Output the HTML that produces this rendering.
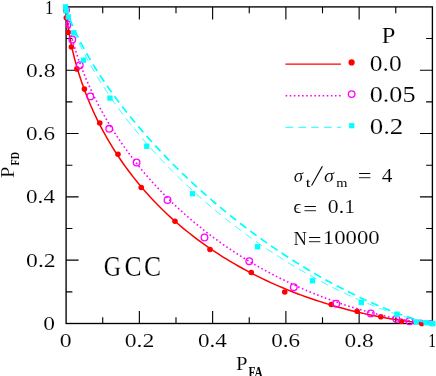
<!DOCTYPE html>
<html><head><meta charset="utf-8"><title>ROC</title>
<style>html,body{margin:0;padding:0;background:#fff;}body{width:436px;height:376px;overflow:hidden;font-family:"Liberation Sans",sans-serif;}svg{display:block;}</style></head>
<body>
<svg width="436" height="376" viewBox="0 0 436 376">
<rect width="436" height="376" fill="#fff"/>
<g stroke="#000000" stroke-width="1.35" fill="none">
<rect x="66.10" y="6.90" width="366.30" height="316.60"/>
<path stroke-width="1.12" d="M102.73,323.50 v-6.30 M102.73,6.90 v6.30 M66.10,291.84 h6.30 M432.40,291.84 h-6.30 M139.36,323.50 v-12.50 M139.36,6.90 v12.50 M66.10,260.18 h12.50 M432.40,260.18 h-12.50 M175.99,323.50 v-6.30 M175.99,6.90 v6.30 M66.10,228.52 h6.30 M432.40,228.52 h-6.30 M212.62,323.50 v-12.50 M212.62,6.90 v12.50 M66.10,196.86 h12.50 M432.40,196.86 h-12.50 M249.25,323.50 v-6.30 M249.25,6.90 v6.30 M66.10,165.20 h6.30 M432.40,165.20 h-6.30 M285.88,323.50 v-12.50 M285.88,6.90 v12.50 M66.10,133.54 h12.50 M432.40,133.54 h-12.50 M322.51,323.50 v-6.30 M322.51,6.90 v6.30 M66.10,101.88 h6.30 M432.40,101.88 h-6.30 M359.14,323.50 v-12.50 M359.14,6.90 v12.50 M66.10,70.22 h12.50 M432.40,70.22 h-12.50 M395.77,323.50 v-6.30 M395.77,6.90 v6.30 M66.10,38.56 h6.30 M432.40,38.56 h-6.30"/>
</g>
<path d="M66.10,6.90 L66.10,6.90 L66.10,6.90 L66.10,6.90 L66.10,6.90 L66.10,6.90 L66.10,6.90 L66.10,6.90 L66.10,6.90 L66.10,6.90 L66.10,6.90 L66.10,6.90 L66.10,6.90 L66.10,6.90 L66.10,6.90 L66.10,6.90 L66.10,6.90 L66.10,6.90 L66.10,6.90 L66.10,6.90 L66.10,6.90 L66.10,6.90 L66.10,6.90 L66.10,6.90 L66.10,6.90 L66.10,6.90 L66.10,6.90 L66.10,6.90 L66.10,6.90 L66.10,6.90 L66.10,6.91 L66.10,6.91 L66.10,6.91 L66.10,6.91 L66.10,6.91 L66.10,6.91 L66.10,6.91 L66.10,6.91 L66.10,6.91 L66.10,6.92 L66.10,6.92 L66.10,6.92 L66.10,6.92 L66.10,6.92 L66.10,6.93 L66.10,6.93 L66.10,6.93 L66.10,6.94 L66.10,6.94 L66.10,6.95 L66.10,6.95 L66.10,6.96 L66.10,6.96 L66.10,6.97 L66.10,6.98 L66.10,6.98 L66.10,6.99 L66.10,7.00 L66.10,7.01 L66.10,7.03 L66.10,7.04 L66.10,7.05 L66.10,7.07 L66.10,7.08 L66.10,7.10 L66.10,7.12 L66.10,7.15 L66.11,7.17 L66.11,7.20 L66.11,7.22 L66.11,7.25 L66.11,7.29 L66.11,7.32 L66.11,7.36 L66.11,7.41 L66.11,7.45 L66.12,7.50 L66.12,7.56 L66.12,7.62 L66.12,7.68 L66.12,7.75 L66.13,7.82 L66.13,7.90 L66.13,7.99 L66.14,8.08 L66.14,8.18 L66.15,8.29 L66.15,8.40 L66.16,8.52 L66.16,8.66 L66.17,8.80 L66.18,8.95 L66.19,9.11 L66.20,9.28 L66.21,9.47 L66.22,9.66 L66.23,9.87 L66.25,10.10 L66.26,10.34 L66.28,10.59 L66.30,10.86 L66.32,11.15 L66.34,11.46 L66.36,11.78 L66.39,12.12 L66.42,12.49 L66.45,12.87 L66.48,13.28 L66.52,13.71 L66.56,14.17 L66.60,14.65 L66.65,15.16 L66.70,15.69 L66.76,16.25 L66.82,16.85 L66.88,17.47 L66.95,18.13 L67.03,18.82 L67.11,19.54 L67.20,20.30 L67.30,21.09 L67.40,21.92 L67.51,22.80 L67.63,23.71 L67.76,24.66 L67.90,25.65 L68.05,26.69 L68.21,27.77 L68.38,28.89 L68.57,30.07 L68.76,31.28 L68.97,32.55 L69.20,33.87 L69.44,35.24 L69.70,36.65 L69.97,38.12 L70.26,39.64 L70.57,41.22 L70.90,42.85 L71.25,44.53 L71.62,46.27 L72.02,48.06 L72.44,49.91 L72.89,51.81 L73.36,53.77 L73.86,55.79 L74.38,57.86 L74.94,59.99 L75.53,62.18 L76.15,64.42 L76.81,66.72 L77.50,69.08 L78.22,71.49 L78.99,73.96 L79.79,76.48 L80.64,79.05 L81.52,81.67 L82.45,84.35 L83.42,87.08 L84.44,89.86 L85.51,92.69 L86.63,95.56 L87.79,98.48 L89.01,101.44 L90.28,104.45 L91.60,107.50 L92.98,110.59 L94.41,113.71 L95.90,116.88 L97.45,120.07 L99.06,123.30 L100.73,126.56 L102.46,129.84 L104.26,133.15 L106.11,136.48 L108.04,139.84 L110.02,143.21 L112.07,146.60 L114.19,150.00 L116.38,153.42 L118.63,156.84 L120.95,160.27 L123.33,163.70 L125.78,167.13 L128.30,170.56 L130.89,173.99 L133.55,177.41 L136.27,180.83 L139.05,184.23 L141.91,187.61 L144.82,190.98 L147.81,194.34 L150.85,197.67 L153.96,200.97 L157.13,204.25 L160.36,207.51 L163.64,210.73 L166.99,213.92 L170.39,217.08 L173.84,220.20 L177.35,223.28 L180.90,226.33 L184.50,229.33 L188.15,232.29 L191.85,235.20 L195.58,238.07 L199.35,240.89 L203.16,243.66 L207.01,246.39 L210.88,249.06 L214.78,251.68 L218.71,254.24 L222.66,256.76 L226.63,259.22 L230.62,261.62 L234.62,263.97 L238.64,266.26 L242.66,268.50 L246.69,270.68 L250.71,272.80 L254.74,274.87 L258.77,276.88 L262.78,278.83 L266.79,280.73 L270.78,282.57 L274.76,284.36 L278.71,286.09 L282.65,287.76 L286.56,289.38 L290.44,290.95 L294.29,292.47 L298.11,293.93 L301.89,295.34 L305.64,296.70 L309.34,298.01 L313.00,299.27 L316.62,300.48 L320.19,301.65 L323.71,302.77 L327.18,303.85 L330.59,304.88 L333.95,305.86 L337.25,306.81 L340.50,307.72 L343.68,308.58 L346.81,309.41 L349.87,310.20 L352.87,310.95 L355.80,311.67 L358.67,312.36 L361.48,313.01 L364.22,313.63 L366.89,314.22 L369.50,314.78 L372.04,315.31 L374.51,315.81 L376.91,316.29 L379.25,316.74 L381.52,317.17 L383.72,317.58 L385.85,317.96 L387.92,318.32 L389.93,318.66 L391.87,318.98 L393.74,319.29 L395.55,319.57 L397.30,319.84 L398.99,320.09 L400.62,320.33 L402.18,320.55 L403.69,320.76 L405.14,320.96 L406.53,321.14 L407.87,321.31 L409.15,321.47 L410.38,321.62 L411.56,321.76 L412.69,321.89 L413.77,322.01 L414.80,322.13 L415.79,322.23 L416.73,322.33 L417.63,322.42 L418.48,322.51 L419.30,322.59 L420.07,322.66 L420.81,322.73 L421.51,322.79 L422.17,322.85 L422.80,322.90 L423.40,322.95 L423.97,323.00 L424.50,323.04 L425.01,323.08 L425.49,323.12 L425.94,323.15 L426.37,323.18 L426.77,323.21 L427.15,323.23 L427.51,323.26 L427.84,323.28 L428.16,323.30 L428.45,323.32 L428.73,323.33 L428.99,323.35 L429.24,323.36 L429.47,323.38 L429.68,323.39 L429.88,323.40 L430.07,323.41 L430.24,323.42 L430.41,323.42 L430.56,323.43 L430.70,323.44 L430.83,323.44 L430.95,323.45 L431.07,323.46 L431.17,323.46 L431.27,323.46 L431.36,323.47 L431.45,323.47 L431.53,323.47 L431.60,323.48 L431.67,323.48 L431.73,323.48 L431.78,323.48 L431.84,323.48 L431.88,323.49 L431.93,323.49 L431.97,323.49 L432.01,323.49 L432.04,323.49 L432.07,323.49 L432.10,323.49 L432.13,323.49 L432.16,323.49 L432.18,323.50 L432.20,323.50 L432.22,323.50 L432.23,323.50 L432.25,323.50 L432.26,323.50 L432.28,323.50 L432.29,323.50 L432.30,323.50 L432.31,323.50 L432.32,323.50 L432.33,323.50 L432.33,323.50 L432.34,323.50 L432.35,323.50 L432.35,323.50 L432.36,323.50 L432.36,323.50 L432.37,323.50 L432.37,323.50 L432.37,323.50 L432.38,323.50 L432.38,323.50 L432.38,323.50 L432.38,323.50 L432.38,323.50 L432.39,323.50 L432.39,323.50 L432.39,323.50 L432.39,323.50 L432.39,323.50 L432.39,323.50 L432.39,323.50 L432.39,323.50 L432.39,323.50 L432.40,323.50 L432.40,323.50 L432.40,323.50 L432.40,323.50 L432.40,323.50 L432.40,323.50 L432.40,323.50 L432.40,323.50 L432.40,323.50 L432.40,323.50 L432.40,323.50 L432.40,323.50 L432.40,323.50 L432.40,323.50 L432.40,323.50 L432.40,323.50 L432.40,323.50 L432.40,323.50 L432.40,323.50 L432.40,323.50 L432.40,323.50 L432.40,323.50 L432.40,323.50 L432.40,323.50 L432.40,323.50 L432.40,323.50 L432.40,323.50 L432.40,323.50 L432.40,323.50 L432.40,323.50 L432.40,323.50" fill="none" stroke="#ff0000" stroke-width="1.5"/>
<circle cx="66.30" cy="17.80" r="2.8" fill="#ff0000"/>
<circle cx="68.30" cy="32.20" r="2.8" fill="#ff0000"/>
<circle cx="71.40" cy="47.00" r="2.8" fill="#ff0000"/>
<circle cx="76.90" cy="68.90" r="2.8" fill="#ff0000"/>
<circle cx="84.40" cy="89.10" r="2.8" fill="#ff0000"/>
<circle cx="99.75" cy="123.00" r="2.8" fill="#ff0000"/>
<circle cx="118.00" cy="154.25" r="2.8" fill="#ff0000"/>
<circle cx="141.25" cy="187.50" r="2.8" fill="#ff0000"/>
<circle cx="175.00" cy="221.25" r="2.8" fill="#ff0000"/>
<circle cx="210.00" cy="249.50" r="2.8" fill="#ff0000"/>
<circle cx="251.25" cy="272.50" r="2.8" fill="#ff0000"/>
<circle cx="284.75" cy="292.00" r="2.8" fill="#ff0000"/>
<circle cx="331.25" cy="304.50" r="2.8" fill="#ff0000"/>
<circle cx="357.10" cy="311.30" r="2.8" fill="#ff0000"/>
<circle cx="380.80" cy="316.80" r="2.8" fill="#ff0000"/>
<circle cx="401.40" cy="321.20" r="2.8" fill="#ff0000"/>
<circle cx="421.70" cy="323.40" r="2.8" fill="#ff0000"/>
<ellipse cx="68.45" cy="24.6" rx="2.3" ry="3.3" fill="none" stroke="#ff00ff" stroke-width="1.3"/>
<circle cx="66.45" cy="10.0" r="2.9" fill="none" stroke="#ff00ff" stroke-width="1.3"/>
<path d="M66.10,6.90 L66.10,6.90 L66.10,6.90 L66.10,6.90 L66.10,6.90 L66.10,6.90 L66.10,6.90 L66.10,6.90 L66.10,6.90 L66.10,6.90 L66.10,6.90 L66.10,6.90 L66.10,6.90 L66.10,6.90 L66.10,6.90 L66.10,6.90 L66.10,6.90 L66.10,6.90 L66.10,6.90 L66.10,6.90 L66.10,6.90 L66.10,6.90 L66.10,6.90 L66.10,6.90 L66.10,6.90 L66.10,6.90 L66.10,6.90 L66.10,6.90 L66.10,6.90 L66.10,6.90 L66.10,6.90 L66.10,6.90 L66.10,6.90 L66.10,6.90 L66.10,6.90 L66.10,6.90 L66.10,6.90 L66.10,6.91 L66.10,6.91 L66.10,6.91 L66.10,6.91 L66.10,6.91 L66.10,6.91 L66.10,6.91 L66.10,6.91 L66.10,6.91 L66.10,6.91 L66.10,6.92 L66.10,6.92 L66.10,6.92 L66.10,6.92 L66.10,6.93 L66.10,6.93 L66.10,6.93 L66.10,6.94 L66.10,6.94 L66.10,6.95 L66.10,6.95 L66.10,6.96 L66.10,6.96 L66.10,6.97 L66.10,6.98 L66.10,6.98 L66.10,6.99 L66.10,7.00 L66.10,7.01 L66.10,7.03 L66.11,7.04 L66.11,7.05 L66.11,7.07 L66.11,7.09 L66.11,7.11 L66.11,7.13 L66.11,7.15 L66.11,7.17 L66.11,7.20 L66.12,7.23 L66.12,7.26 L66.12,7.30 L66.12,7.33 L66.12,7.38 L66.13,7.42 L66.13,7.47 L66.13,7.52 L66.14,7.58 L66.14,7.64 L66.15,7.70 L66.15,7.78 L66.16,7.85 L66.16,7.94 L66.17,8.03 L66.18,8.12 L66.19,8.23 L66.20,8.34 L66.21,8.46 L66.22,8.59 L66.23,8.73 L66.25,8.87 L66.26,9.03 L66.28,9.20 L66.30,9.39 L66.32,9.58 L66.34,9.79 L66.36,10.01 L66.39,10.25 L66.42,10.50 L66.45,10.77 L66.48,11.05 L66.52,11.36 L66.56,11.68 L66.60,12.02 L66.65,12.39 L66.70,12.77 L66.76,13.18 L66.82,13.61 L66.88,14.07 L66.95,14.55 L67.03,15.06 L67.11,15.60 L67.20,16.16 L67.30,16.76 L67.40,17.39 L67.51,18.05 L67.63,18.74 L67.76,19.47 L67.90,20.24 L68.05,21.04 L68.21,21.88 L68.38,22.77 L68.57,23.69 L68.76,24.65 L68.97,25.66 L69.20,26.71 L69.44,27.81 L69.70,28.95 L69.97,30.15 L70.26,31.39 L70.57,32.68 L70.90,34.02 L71.25,35.41 L71.62,36.85 L72.02,38.35 L72.44,39.90 L72.89,41.51 L73.36,43.17 L73.86,44.89 L74.38,46.66 L74.94,48.49 L75.53,50.38 L76.15,52.33 L76.81,54.33 L77.50,56.39 L78.22,58.51 L78.99,60.69 L79.79,62.93 L80.64,65.23 L81.52,67.58 L82.45,69.99 L83.42,72.45 L84.44,74.98 L85.51,77.55 L86.63,80.19 L87.79,82.87 L89.01,85.61 L90.28,88.40 L91.60,91.25 L92.98,94.14 L94.41,97.08 L95.90,100.06 L97.45,103.09 L99.06,106.17 L100.73,109.28 L102.46,112.43 L104.26,115.63 L106.11,118.85 L108.04,122.12 L110.02,125.41 L112.07,128.73 L114.19,132.08 L116.38,135.45 L118.63,138.85 L120.95,142.26 L123.33,145.70 L125.78,149.15 L128.30,152.60 L130.89,156.07 L133.55,159.55 L136.27,163.03 L139.05,166.51 L141.91,169.99 L144.82,173.47 L147.81,176.94 L150.85,180.40 L153.96,183.85 L157.13,187.29 L160.36,190.71 L163.64,194.11 L166.99,197.49 L170.39,200.85 L173.84,204.18 L177.35,207.48 L180.90,210.74 L184.50,213.98 L188.15,217.18 L191.85,220.35 L195.58,223.47 L199.35,226.55 L203.16,229.60 L207.01,232.59 L210.88,235.54 L214.78,238.45 L218.71,241.30 L222.66,244.10 L226.63,246.86 L230.62,249.56 L234.62,252.20 L238.64,254.79 L242.66,257.33 L246.69,259.81 L250.71,262.23 L254.74,264.60 L258.77,266.91 L262.78,269.16 L266.79,271.35 L270.78,273.49 L274.76,275.57 L278.71,277.58 L282.65,279.55 L286.56,281.45 L290.44,283.29 L294.29,285.08 L298.11,286.81 L301.89,288.49 L305.64,290.11 L309.34,291.67 L313.00,293.18 L316.62,294.64 L320.19,296.05 L323.71,297.40 L327.18,298.70 L330.59,299.95 L333.95,301.16 L337.25,302.31 L340.50,303.42 L343.68,304.48 L346.81,305.50 L349.87,306.48 L352.87,307.41 L355.80,308.30 L358.67,309.15 L361.48,309.97 L364.22,310.74 L366.89,311.48 L369.50,312.18 L372.04,312.85 L374.51,313.49 L376.91,314.09 L379.25,314.67 L381.52,315.21 L383.72,315.73 L385.85,316.22 L387.92,316.68 L389.93,317.12 L391.87,317.53 L393.74,317.92 L395.55,318.29 L397.30,318.64 L398.99,318.97 L400.62,319.27 L402.18,319.56 L403.69,319.84 L405.14,320.09 L406.53,320.33 L407.87,320.56 L409.15,320.77 L410.38,320.97 L411.56,321.15 L412.69,321.33 L413.77,321.49 L414.80,321.64 L415.79,321.78 L416.73,321.91 L417.63,322.03 L418.48,322.15 L419.30,322.25 L420.07,322.35 L420.81,322.44 L421.51,322.53 L422.17,322.61 L422.80,322.68 L423.40,322.75 L423.97,322.81 L424.50,322.87 L425.01,322.92 L425.49,322.97 L425.94,323.01 L426.37,323.06 L426.77,323.09 L427.15,323.13 L427.51,323.16 L427.84,323.19 L428.16,323.22 L428.45,323.24 L428.73,323.27 L428.99,323.29 L429.24,323.31 L429.47,323.33 L429.68,323.34 L429.88,323.36 L430.07,323.37 L430.24,323.38 L430.41,323.39 L430.56,323.40 L430.70,323.41 L430.83,323.42 L430.95,323.43 L431.07,323.44 L431.17,323.44 L431.27,323.45 L431.36,323.45 L431.45,323.46 L431.53,323.46 L431.60,323.47 L431.67,323.47 L431.73,323.47 L431.78,323.48 L431.84,323.48 L431.88,323.48 L431.93,323.48 L431.97,323.48 L432.01,323.49 L432.04,323.49 L432.07,323.49 L432.10,323.49 L432.13,323.49 L432.16,323.49 L432.18,323.49 L432.20,323.49 L432.22,323.49 L432.23,323.50 L432.25,323.50 L432.26,323.50 L432.28,323.50 L432.29,323.50 L432.30,323.50 L432.31,323.50 L432.32,323.50 L432.33,323.50 L432.33,323.50 L432.34,323.50 L432.35,323.50 L432.35,323.50 L432.36,323.50 L432.36,323.50 L432.37,323.50 L432.37,323.50 L432.37,323.50 L432.38,323.50 L432.38,323.50 L432.38,323.50 L432.38,323.50 L432.38,323.50 L432.39,323.50 L432.39,323.50 L432.39,323.50 L432.39,323.50 L432.39,323.50 L432.39,323.50 L432.39,323.50 L432.39,323.50 L432.39,323.50 L432.40,323.50 L432.40,323.50 L432.40,323.50 L432.40,323.50 L432.40,323.50 L432.40,323.50 L432.40,323.50 L432.40,323.50 L432.40,323.50 L432.40,323.50 L432.40,323.50 L432.40,323.50 L432.40,323.50 L432.40,323.50 L432.40,323.50 L432.40,323.50 L432.40,323.50 L432.40,323.50 L432.40,323.50 L432.40,323.50 L432.40,323.50 L432.40,323.50 L432.40,323.50 L432.40,323.50 L432.40,323.50 L432.40,323.50 L432.40,323.50 L432.40,323.50 L432.40,323.50 L432.40,323.50 L432.40,323.50" fill="none" stroke="#ff00ff" stroke-width="1.6" stroke-dasharray="1.6 2.52"/>
<circle cx="72.30" cy="39.50" r="3.3" fill="none" stroke="#ff00ff" stroke-width="1.3"/>
<circle cx="79.80" cy="65.20" r="3.3" fill="none" stroke="#ff00ff" stroke-width="1.3"/>
<circle cx="90.30" cy="96.40" r="3.3" fill="none" stroke="#ff00ff" stroke-width="1.3"/>
<circle cx="109.25" cy="128.80" r="3.3" fill="none" stroke="#ff00ff" stroke-width="1.3"/>
<circle cx="136.60" cy="162.50" r="3.3" fill="none" stroke="#ff00ff" stroke-width="1.3"/>
<circle cx="167.50" cy="200.00" r="3.3" fill="none" stroke="#ff00ff" stroke-width="1.3"/>
<circle cx="204.50" cy="237.50" r="3.3" fill="none" stroke="#ff00ff" stroke-width="1.3"/>
<circle cx="249.25" cy="261.20" r="3.3" fill="none" stroke="#ff00ff" stroke-width="1.3"/>
<circle cx="293.75" cy="287.20" r="3.3" fill="none" stroke="#ff00ff" stroke-width="1.3"/>
<circle cx="336.25" cy="303.75" r="3.3" fill="none" stroke="#ff00ff" stroke-width="1.3"/>
<circle cx="370.80" cy="313.40" r="3.3" fill="none" stroke="#ff00ff" stroke-width="1.3"/>
<circle cx="396.30" cy="319.00" r="3.3" fill="none" stroke="#ff00ff" stroke-width="1.3"/>
<circle cx="409.50" cy="321.20" r="3.3" fill="none" stroke="#ff00ff" stroke-width="1.3"/>
<path d="M417.60,322.03 A3.3,3.3 0 0 1 423.60,322.03" fill="none" stroke="#ff00ff" stroke-width="1.3"/>
<path d="M427.60,322.53 A3.3,3.3 0 0 1 433.60,322.53" fill="none" stroke="#ff00ff" stroke-width="1.3"/>
<path d="M66.10,6.90 L66.10,6.90 L66.10,6.90 L66.10,6.90 L66.10,6.90 L66.10,6.90 L66.10,6.90 L66.10,6.90 L66.10,6.90 L66.10,6.90 L66.10,6.90 L66.10,6.90 L66.10,6.90 L66.10,6.90 L66.10,6.90 L66.10,6.90 L66.10,6.90 L66.10,6.90 L66.10,6.90 L66.10,6.90 L66.10,6.90 L66.10,6.90 L66.10,6.90 L66.10,6.90 L66.10,6.90 L66.10,6.90 L66.10,6.90 L66.10,6.90 L66.10,6.90 L66.10,6.90 L66.10,6.90 L66.10,6.90 L66.10,6.90 L66.10,6.90 L66.10,6.90 L66.10,6.90 L66.10,6.90 L66.10,6.90 L66.10,6.90 L66.10,6.90 L66.10,6.90 L66.10,6.90 L66.10,6.90 L66.10,6.90 L66.10,6.90 L66.10,6.90 L66.10,6.90 L66.10,6.90 L66.10,6.90 L66.10,6.91 L66.10,6.91 L66.10,6.91 L66.10,6.91 L66.10,6.91 L66.10,6.91 L66.10,6.91 L66.10,6.91 L66.10,6.91 L66.10,6.92 L66.10,6.92 L66.10,6.92 L66.10,6.92 L66.10,6.92 L66.10,6.93 L66.10,6.93 L66.10,6.93 L66.10,6.94 L66.11,6.94 L66.11,6.95 L66.11,6.95 L66.11,6.96 L66.11,6.97 L66.11,6.97 L66.11,6.98 L66.11,6.99 L66.11,7.00 L66.12,7.01 L66.12,7.02 L66.12,7.03 L66.12,7.05 L66.12,7.06 L66.13,7.08 L66.13,7.10 L66.13,7.12 L66.14,7.14 L66.14,7.16 L66.15,7.19 L66.15,7.22 L66.16,7.25 L66.16,7.28 L66.17,7.32 L66.18,7.36 L66.19,7.40 L66.20,7.45 L66.21,7.50 L66.22,7.55 L66.23,7.61 L66.25,7.68 L66.26,7.75 L66.28,7.82 L66.30,7.90 L66.32,7.99 L66.34,8.08 L66.36,8.18 L66.39,8.29 L66.42,8.41 L66.45,8.53 L66.48,8.67 L66.52,8.81 L66.56,8.96 L66.60,9.13 L66.65,9.31 L66.70,9.50 L66.76,9.70 L66.82,9.91 L66.88,10.14 L66.95,10.39 L67.03,10.65 L67.11,10.93 L67.20,11.23 L67.30,11.54 L67.40,11.87 L67.51,12.23 L67.63,12.60 L67.76,13.00 L67.90,13.42 L68.05,13.87 L68.21,14.34 L68.38,14.84 L68.57,15.36 L68.76,15.92 L68.97,16.50 L69.20,17.12 L69.44,17.76 L69.70,18.44 L69.97,19.16 L70.26,19.91 L70.57,20.70 L70.90,21.52 L71.25,22.39 L71.62,23.29 L72.02,24.24 L72.44,25.23 L72.89,26.26 L73.36,27.34 L73.86,28.46 L74.38,29.63 L74.94,30.85 L75.53,32.12 L76.15,33.44 L76.81,34.81 L77.50,36.23 L78.22,37.71 L78.99,39.23 L79.79,40.82 L80.64,42.45 L81.52,44.15 L82.45,45.90 L83.42,47.70 L84.44,49.57 L85.51,51.49 L86.63,53.47 L87.79,55.51 L89.01,57.60 L90.28,59.76 L91.60,61.97 L92.98,64.24 L94.41,66.57 L95.90,68.95 L97.45,71.40 L99.06,73.90 L100.73,76.45 L102.46,79.06 L104.26,81.72 L106.11,84.44 L108.04,87.21 L110.02,90.03 L112.07,92.90 L114.19,95.82 L116.38,98.78 L118.63,101.80 L120.95,104.85 L123.33,107.95 L125.78,111.09 L128.30,114.26 L130.89,117.48 L133.55,120.72 L136.27,124.00 L139.05,127.31 L141.91,130.65 L144.82,134.01 L147.81,137.40 L150.85,140.81 L153.96,144.23 L157.13,147.68 L160.36,151.13 L163.64,154.60 L166.99,158.07 L170.39,161.55 L173.84,165.03 L177.35,168.51 L180.90,171.99 L184.50,175.46 L188.15,178.93 L191.85,182.39 L195.58,185.83 L199.35,189.26 L203.16,192.67 L207.01,196.05 L210.88,199.42 L214.78,202.76 L218.71,206.07 L222.66,209.36 L226.63,212.61 L230.62,215.82 L234.62,219.00 L238.64,222.14 L242.66,225.25 L246.69,228.31 L250.71,231.32 L254.74,234.29 L258.77,237.22 L262.78,240.09 L266.79,242.92 L270.78,245.69 L274.76,248.41 L278.71,251.08 L282.65,253.70 L286.56,256.26 L290.44,258.76 L294.29,261.21 L298.11,263.60 L301.89,265.93 L305.64,268.21 L309.34,270.43 L313.00,272.59 L316.62,274.69 L320.19,276.73 L323.71,278.72 L327.18,280.64 L330.59,282.51 L333.95,284.33 L337.25,286.08 L340.50,287.78 L343.68,289.43 L346.81,291.01 L349.87,292.55 L352.87,294.03 L355.80,295.45 L358.67,296.83 L361.48,298.15 L364.22,299.43 L366.89,300.65 L369.50,301.83 L372.04,302.95 L374.51,304.04 L376.91,305.07 L379.25,306.07 L381.52,307.02 L383.72,307.93 L385.85,308.80 L387.92,309.62 L389.93,310.42 L391.87,311.17 L393.74,311.89 L395.55,312.57 L397.30,313.22 L398.99,313.84 L400.62,314.43 L402.18,314.98 L403.69,315.51 L405.14,316.01 L406.53,316.49 L407.87,316.93 L409.15,317.36 L410.38,317.76 L411.56,318.14 L412.69,318.49 L413.77,318.83 L414.80,319.14 L415.79,319.44 L416.73,319.72 L417.63,319.99 L418.48,320.23 L419.30,320.46 L420.07,320.68 L420.81,320.88 L421.51,321.07 L422.17,321.25 L422.80,321.42 L423.40,321.57 L423.97,321.72 L424.50,321.86 L425.01,321.98 L425.49,322.10 L425.94,322.21 L426.37,322.31 L426.77,322.40 L427.15,322.49 L427.51,322.57 L427.84,322.65 L428.16,322.72 L428.45,322.78 L428.73,322.84 L428.99,322.90 L429.24,322.95 L429.47,322.99 L429.68,323.04 L429.88,323.08 L430.07,323.11 L430.24,323.15 L430.41,323.18 L430.56,323.21 L430.70,323.23 L430.83,323.26 L430.95,323.28 L431.07,323.30 L431.17,323.32 L431.27,323.34 L431.36,323.35 L431.45,323.36 L431.53,323.38 L431.60,323.39 L431.67,323.40 L431.73,323.41 L431.78,323.42 L431.84,323.43 L431.88,323.43 L431.93,323.44 L431.97,323.45 L432.01,323.45 L432.04,323.46 L432.07,323.46 L432.10,323.46 L432.13,323.47 L432.16,323.47 L432.18,323.47 L432.20,323.48 L432.22,323.48 L432.23,323.48 L432.25,323.48 L432.26,323.49 L432.28,323.49 L432.29,323.49 L432.30,323.49 L432.31,323.49 L432.32,323.49 L432.33,323.49 L432.33,323.49 L432.34,323.49 L432.35,323.49 L432.35,323.50 L432.36,323.50 L432.36,323.50 L432.37,323.50 L432.37,323.50 L432.37,323.50 L432.38,323.50 L432.38,323.50 L432.38,323.50 L432.38,323.50 L432.38,323.50 L432.39,323.50 L432.39,323.50 L432.39,323.50 L432.39,323.50 L432.39,323.50 L432.39,323.50 L432.39,323.50 L432.39,323.50 L432.39,323.50 L432.40,323.50 L432.40,323.50 L432.40,323.50 L432.40,323.50 L432.40,323.50 L432.40,323.50 L432.40,323.50 L432.40,323.50 L432.40,323.50 L432.40,323.50 L432.40,323.50 L432.40,323.50 L432.40,323.50 L432.40,323.50 L432.40,323.50 L432.40,323.50 L432.40,323.50 L432.40,323.50 L432.40,323.50 L432.40,323.50 L432.40,323.50 L432.40,323.50 L432.40,323.50 L432.40,323.50 L432.40,323.50 L432.40,323.50 L432.40,323.50 L432.40,323.50 L432.40,323.50 L432.40,323.50 L432.40,323.50" fill="none" stroke="#00ffff" stroke-width="1.7" stroke-dasharray="7.8 5.0" stroke-dashoffset="0.3"/>
<path d="M66.10,6.90 L66.10,6.90 L66.10,6.90 L66.10,6.90 L66.10,6.90 L66.10,6.90 L66.10,6.90 L66.10,6.90 L66.10,6.90 L66.10,6.90 L66.10,6.90 L66.10,6.90 L66.10,6.90 L66.10,6.90 L66.10,6.90 L66.10,6.90 L66.10,6.90 L66.10,6.90 L66.10,6.90 L66.10,6.90 L66.10,6.90 L66.10,6.90 L66.10,6.90 L66.10,6.90 L66.10,6.90 L66.10,6.90 L66.10,6.90 L66.10,6.90 L66.10,6.90 L66.10,6.90 L66.10,6.90 L66.10,6.90 L66.10,6.90 L66.10,6.90 L66.10,6.90 L66.10,6.90 L66.10,6.90 L66.10,6.90 L66.10,6.90 L66.10,6.90 L66.10,6.90 L66.10,6.90 L66.10,6.90 L66.10,6.90 L66.10,6.90 L66.10,6.90 L66.10,6.91 L66.10,6.91 L66.10,6.91 L66.10,6.91 L66.10,6.91 L66.10,6.91 L66.10,6.91 L66.10,6.91 L66.10,6.91 L66.10,6.91 L66.10,6.92 L66.10,6.92 L66.10,6.92 L66.10,6.92 L66.10,6.93 L66.10,6.93 L66.10,6.93 L66.10,6.94 L66.10,6.94 L66.10,6.94 L66.10,6.95 L66.11,6.95 L66.11,6.96 L66.11,6.97 L66.11,6.97 L66.11,6.98 L66.11,6.99 L66.11,7.00 L66.11,7.01 L66.11,7.02 L66.12,7.04 L66.12,7.05 L66.12,7.07 L66.12,7.08 L66.12,7.10 L66.13,7.12 L66.13,7.14 L66.13,7.17 L66.14,7.19 L66.14,7.22 L66.15,7.25 L66.15,7.29 L66.16,7.33 L66.16,7.37 L66.17,7.41 L66.18,7.46 L66.19,7.51 L66.20,7.56 L66.21,7.62 L66.22,7.69 L66.23,7.76 L66.25,7.83 L66.26,7.92 L66.28,8.00 L66.30,8.10 L66.32,8.20 L66.34,8.31 L66.36,8.43 L66.39,8.56 L66.42,8.69 L66.45,8.84 L66.48,8.99 L66.52,9.16 L66.56,9.34 L66.60,9.53 L66.65,9.74 L66.70,9.95 L66.76,10.19 L66.82,10.43 L66.88,10.70 L66.95,10.98 L67.03,11.28 L67.11,11.60 L67.20,11.93 L67.30,12.29 L67.40,12.67 L67.51,13.07 L67.63,13.50 L67.76,13.95 L67.90,14.43 L68.05,14.93 L68.21,15.46 L68.38,16.02 L68.57,16.61 L68.76,17.23 L68.97,17.88 L69.20,18.57 L69.44,19.29 L69.70,20.04 L69.97,20.84 L70.26,21.67 L70.57,22.54 L70.90,23.45 L71.25,24.41 L71.62,25.41 L72.02,26.45 L72.44,27.53 L72.89,28.66 L73.36,29.84 L73.86,31.07 L74.38,32.35 L74.94,33.68 L75.53,35.06 L76.15,36.49 L76.81,37.97 L77.50,39.51 L78.22,41.10 L78.99,42.75 L79.79,44.45 L80.64,46.21 L81.52,48.03 L82.45,49.90 L83.42,51.84 L84.44,53.83 L85.51,55.87 L86.63,57.98 L87.79,60.14 L89.01,62.37 L90.28,64.65 L91.60,66.99 L92.98,69.38 L94.41,71.83 L95.90,74.34 L97.45,76.91 L99.06,79.53 L100.73,82.20 L102.46,84.93 L104.26,87.70 L106.11,90.53 L108.04,93.41 L110.02,96.34 L112.07,99.31 L114.19,102.33 L116.38,105.39 L118.63,108.50 L120.95,111.64 L123.33,114.83 L125.78,118.05 L128.30,121.30 L130.89,124.58 L133.55,127.90 L136.27,131.24 L139.05,134.61 L141.91,138.00 L144.82,141.41 L147.81,144.84 L150.85,148.28 L153.96,151.74 L157.13,155.21 L160.36,158.68 L163.64,162.16 L166.99,165.64 L170.39,169.12 L173.84,172.60 L177.35,176.08 L180.90,179.54 L184.50,182.99 L188.15,186.43 L191.85,189.86 L195.58,193.26 L199.35,196.65 L203.16,200.01 L207.01,203.35 L210.88,206.65 L214.78,209.93 L218.71,213.18 L222.66,216.39 L226.63,219.56 L230.62,222.69 L234.62,225.79 L238.64,228.84 L242.66,231.85 L246.69,234.81 L250.71,237.73 L254.74,240.59 L258.77,243.41 L262.78,246.17 L266.79,248.89 L270.78,251.55 L274.76,254.15 L278.71,256.70 L282.65,259.20 L286.56,261.63 L290.44,264.02 L294.29,266.34 L298.11,268.60 L301.89,270.81 L305.64,272.96 L309.34,275.05 L313.00,277.09 L316.62,279.06 L320.19,280.98 L323.71,282.84 L327.18,284.64 L330.59,286.39 L333.95,288.08 L337.25,289.71 L340.50,291.29 L343.68,292.81 L346.81,294.28 L349.87,295.70 L352.87,297.07 L355.80,298.38 L358.67,299.65 L361.48,300.86 L364.22,302.03 L366.89,303.15 L369.50,304.22 L372.04,305.25 L374.51,306.24 L376.91,307.18 L379.25,308.08 L381.52,308.94 L383.72,309.77 L385.85,310.55 L387.92,311.30 L389.93,312.01 L391.87,312.69 L393.74,313.33 L395.55,313.95 L397.30,314.53 L398.99,315.08 L400.62,315.60 L402.18,316.10 L403.69,316.57 L405.14,317.01 L406.53,317.43 L407.87,317.83 L409.15,318.20 L410.38,318.55 L411.56,318.89 L412.69,319.20 L413.77,319.49 L414.80,319.77 L415.79,320.03 L416.73,320.27 L417.63,320.50 L418.48,320.72 L419.30,320.92 L420.07,321.11 L420.81,321.28 L421.51,321.45 L422.17,321.60 L422.80,321.74 L423.40,321.88 L423.97,322.00 L424.50,322.12 L425.01,322.23 L425.49,322.33 L425.94,322.42 L426.37,322.51 L426.77,322.59 L427.15,322.66 L427.51,322.73 L427.84,322.79 L428.16,322.85 L428.45,322.91 L428.73,322.96 L428.99,323.00 L429.24,323.05 L429.47,323.08 L429.68,323.12 L429.88,323.15 L430.07,323.18 L430.24,323.21 L430.41,323.24 L430.56,323.26 L430.70,323.28 L430.83,323.30 L430.95,323.32 L431.07,323.34 L431.17,323.35 L431.27,323.37 L431.36,323.38 L431.45,323.39 L431.53,323.40 L431.60,323.41 L431.67,323.42 L431.73,323.43 L431.78,323.43 L431.84,323.44 L431.88,323.45 L431.93,323.45 L431.97,323.46 L432.01,323.46 L432.04,323.47 L432.07,323.47 L432.10,323.47 L432.13,323.48 L432.16,323.48 L432.18,323.48 L432.20,323.48 L432.22,323.48 L432.23,323.49 L432.25,323.49 L432.26,323.49 L432.28,323.49 L432.29,323.49 L432.30,323.49 L432.31,323.49 L432.32,323.49 L432.33,323.49 L432.33,323.50 L432.34,323.50 L432.35,323.50 L432.35,323.50 L432.36,323.50 L432.36,323.50 L432.37,323.50 L432.37,323.50 L432.37,323.50 L432.38,323.50 L432.38,323.50 L432.38,323.50 L432.38,323.50 L432.38,323.50 L432.39,323.50 L432.39,323.50 L432.39,323.50 L432.39,323.50 L432.39,323.50 L432.39,323.50 L432.39,323.50 L432.39,323.50 L432.39,323.50 L432.40,323.50 L432.40,323.50 L432.40,323.50 L432.40,323.50 L432.40,323.50 L432.40,323.50 L432.40,323.50 L432.40,323.50 L432.40,323.50 L432.40,323.50 L432.40,323.50 L432.40,323.50 L432.40,323.50 L432.40,323.50 L432.40,323.50 L432.40,323.50 L432.40,323.50 L432.40,323.50 L432.40,323.50 L432.40,323.50 L432.40,323.50 L432.40,323.50 L432.40,323.50 L432.40,323.50 L432.40,323.50 L432.40,323.50 L432.40,323.50 L432.40,323.50 L432.40,323.50 L432.40,323.50 L432.40,323.50" fill="none" stroke="#00ffff" stroke-width="0.8" stroke-dasharray="7.6 5.2" stroke-dashoffset="0.3"/>
<rect x="62.95" y="4.15" width="5.3" height="5.3" fill="#00ffff"/>
<rect x="63.50" y="8.35" width="5.3" height="5.3" fill="#00ffff"/>
<rect x="65.65" y="14.35" width="5.3" height="5.3" fill="#00ffff"/>
<rect x="71.15" y="30.15" width="5.3" height="5.3" fill="#00ffff"/>
<rect x="80.75" y="57.55" width="5.3" height="5.3" fill="#00ffff"/>
<rect x="107.35" y="95.45" width="5.3" height="5.3" fill="#00ffff"/>
<rect x="144.10" y="143.60" width="5.3" height="5.3" fill="#00ffff"/>
<rect x="189.85" y="191.10" width="5.3" height="5.3" fill="#00ffff"/>
<rect x="254.85" y="244.10" width="5.3" height="5.3" fill="#00ffff"/>
<rect x="309.85" y="278.10" width="5.3" height="5.3" fill="#00ffff"/>
<rect x="358.65" y="299.85" width="5.3" height="5.3" fill="#00ffff"/>
<rect x="394.35" y="311.55" width="5.3" height="5.3" fill="#00ffff"/>
<rect x="413.55" y="319.25" width="5.3" height="5.3" fill="#00ffff"/>
<rect x="423.35" y="320.05" width="5.3" height="5.3" fill="#00ffff"/>
<rect x="428.65" y="320.75" width="5.3" height="5.3" fill="#00ffff"/>
<rect x="430.05" y="321.05" width="5.3" height="5.3" fill="#00ffff"/>
<g fill="none">
<path d="M285.4,64.1 H340.9" stroke="#ff0000" stroke-width="1.1"/>
<path d="M285.6,95.8 H341.2" stroke="#ff00ff" stroke-width="1.6" stroke-dasharray="1.6 2.51"/>
<path d="M285.5,127.3 H341.1" stroke="#00ffff" stroke-width="0.9" stroke-dasharray="7.7 5.14"/>
</g>
<circle cx="351.6" cy="62.4" r="3.1" fill="#ff0000"/>
<circle cx="351.65" cy="94.1" r="3.3" fill="none" stroke="#ff00ff" stroke-width="1.3"/>
<rect x="349.15" y="123.1" width="5.2" height="5.2" fill="#00ffff"/>
<g fill="#000000" font-family="Liberation Serif, serif" font-size="20" stroke="#fff" paint-order="fill stroke" opacity="0.999">
<text transform="translate(59.86,347.09) scale(1.189,0.989)" stroke-width="0.12">0</text>
<text transform="translate(124.72,347.09) scale(1.186,0.989)" stroke-width="0.12">0.2</text>
<text transform="translate(198.00,347.09) scale(1.155,0.989)" stroke-width="0.12">0.4</text>
<text transform="translate(271.26,347.09) scale(1.155,0.989)" stroke-width="0.12">0.6</text>
<text transform="translate(344.51,347.09) scale(1.171,0.989)" stroke-width="0.12">0.8</text>
<text transform="translate(428.29,347.10) scale(0.773,0.990)" stroke="none">1</text>
<text transform="translate(43.36,330.09) scale(1.177,0.982)" stroke-width="0.12">0</text>
<text transform="translate(26.06,266.77) scale(1.186,0.982)" stroke-width="0.12">0.2</text>
<text transform="translate(26.08,203.45) scale(1.155,0.982)" stroke-width="0.12">0.4</text>
<text transform="translate(26.08,140.13) scale(1.155,0.982)" stroke-width="0.12">0.6</text>
<text transform="translate(26.07,76.81) scale(1.171,0.982)" stroke-width="0.12">0.8</text>
<text transform="translate(44.99,13.50) scale(0.840,0.967)" stroke="none">1</text>
<text transform="translate(381.41,42.90) scale(1.251,1.158)" stroke-width="0.12">P</text>
<text transform="translate(369.80,70.95) scale(1.276,1.113)" stroke-width="0.12">0.0</text>
<text transform="translate(369.68,102.25) scale(1.310,1.113)" stroke-width="0.12">0.05</text>
<text transform="translate(369.66,133.85) scale(1.348,1.105)" stroke-width="0.12">0.2</text>
<text transform="translate(293.71,182.01) scale(0.941,0.932)" font-style="italic" stroke-width="0.12">σ</text>
<text transform="translate(305.70,186.90) scale(0.871,0.648)" stroke="none">t</text>
<text transform="translate(324.08,182.01) scale(1.008,0.932)" font-style="italic" stroke-width="0.12">σ</text>
<text transform="translate(336.17,187.00) scale(0.720,0.578)" stroke="none">m</text>
<text transform="translate(357.65,183.04) scale(1.227,1.092)" stroke-width="0.12">=</text>
<text transform="translate(381.67,182.10) scale(1.067,0.945)" stroke-width="0.12">4</text>
<text transform="translate(293.37,212.92) scale(1.016,0.900)" stroke-width="0.12">ϵ</text>
<text transform="translate(303.24,215.66) scale(1.237,1.073)" stroke-width="0.12">=</text>
<text transform="translate(327.82,212.91) scale(1.088,0.916)" stroke-width="0.12">0.1</text>
<text transform="translate(293.51,244.50) scale(0.931,0.960)" stroke-width="0.12">N</text>
<text transform="translate(307.76,246.56) scale(1.216,1.073)" stroke-width="0.12">=</text>
<text transform="translate(322.82,244.41) scale(1.138,0.931)" stroke-width="0.12">10000</text>
<text transform="translate(103.75,275.83) scale(1.206,1.505)" stroke-width="0.12">G</text>
<text transform="translate(124.50,275.83) scale(1.280,1.505)" stroke-width="0.12">C</text>
<text transform="translate(144.10,275.83) scale(1.280,1.505)" stroke-width="0.12">C</text>
<text transform="translate(236.08,369.80) scale(1.038,0.952)" stroke-width="0.12">P</text>
<text transform="translate(248.52,377.00) scale(0.565,0.685)" font-weight="bold" stroke="none">FA</text>
<text transform="rotate(-90) translate(-178.12,13.90) scale(1.028,0.990)" stroke-width="0.12">P</text>
<text transform="rotate(-90) translate(-165.46,19.11) scale(0.507,0.595)" font-weight="bold" stroke="none">FD</text>
</g>
<path d="M311.6,185.5 L322.4,166.3" stroke="#000" stroke-width="1.15" fill="none"/>
</svg>
</body></html>
